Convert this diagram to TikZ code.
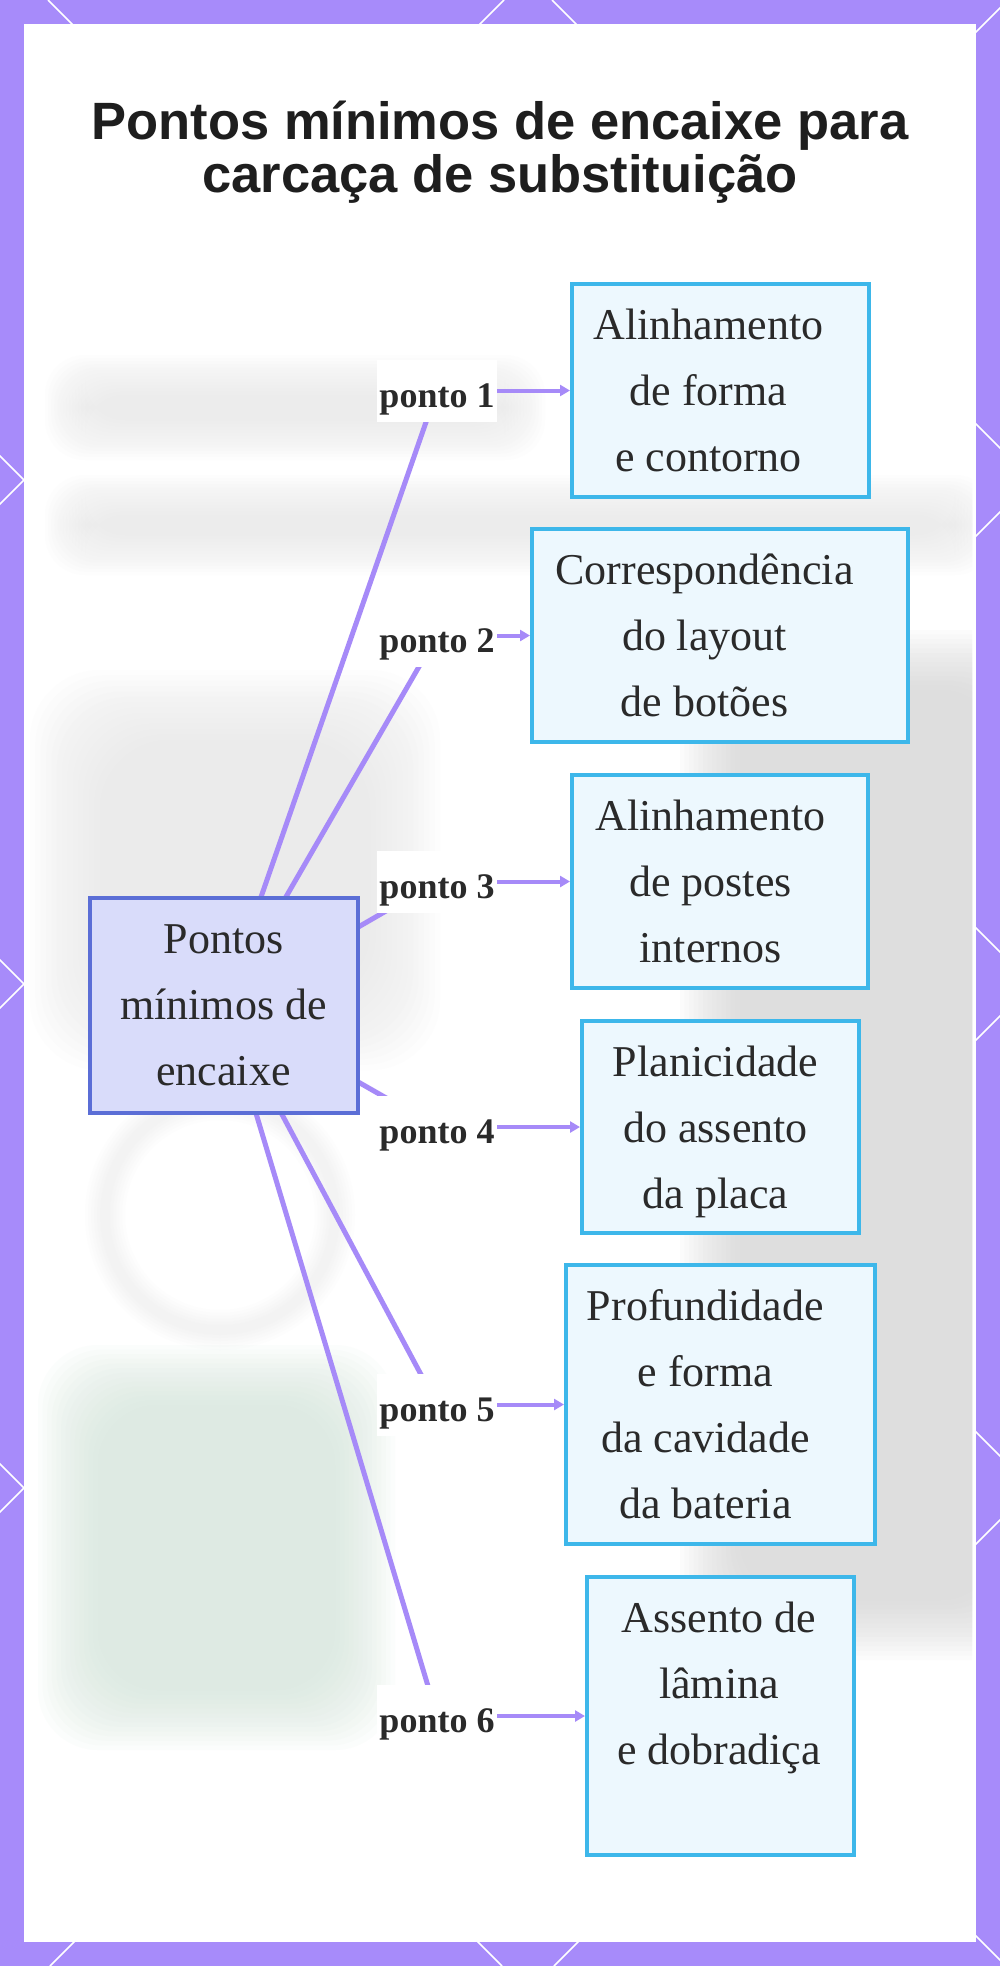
\documentclass[tikz,border=0pt]{standalone}
\usepackage{fontspec}
\setmainfont{Liberation Serif}
\newfontfamily\titlefont{Liberation Sans}
\usetikzlibrary{arrows.meta}
\definecolor{framecol}{HTML}{A78BFA}
\definecolor{linkcol}{HTML}{A68AF8}
\definecolor{hubfill}{HTML}{D9DCFA}
\definecolor{hubline}{HTML}{5B6ED6}
\definecolor{boxfill}{HTML}{EDF8FE}
\definecolor{boxline}{HTML}{3DB7EA}
\definecolor{inkcol}{HTML}{2A2A2A}
\definecolor{titleink}{HTML}{1E1E1E}
\definecolor{hazegray}{HTML}{D4D4D4}
\definecolor{hazelight}{HTML}{E6E6E6}
\definecolor{hazetext}{HTML}{E8E8E8}
\definecolor{hazegreen}{HTML}{D3E5DA}
\pgfdeclarelayer{backdrop}
\pgfdeclarelayer{edgelayer}
\pgfsetlayers{backdrop,edgelayer,main}
% soft-edged blob: x1,y1,x2,y2,colour,edge width
\newcommand\bgblob[6]{%
  \foreach \k in {0,...,13} {\fill[#5, opacity=0.075, rounded corners={#6}] ({#1+\k*#6/13},{#2+\k*#6/13}) rectangle ({#3-\k*#6/13},{#4-\k*#6/13});}}
\tikzset{
  titletext/.style={anchor=base, inner sep=0pt, text=titleink, font=\titlefont\bfseries\fontsize{52.5}{56}\selectfont},
  hubbox/.style={draw=hubline, line width=4pt, fill=hubfill, minimum width=268pt, minimum height=215pt, inner sep=0pt, align=center, text=inkcol, font=\fontsize{44}{66}\selectfont},
  itembox/.style={draw=boxline, line width=4pt, fill=boxfill, inner sep=0pt},
  itemtext/.style={align=center, inner sep=0pt, text=inkcol, font=\fontsize{44}{66}\selectfont},
  tag/.style={fill=white, text=inkcol, font=\bfseries\fontsize{36}{40}\selectfont, inner xsep=2pt, inner ysep=7.5pt, text height=40pt, text depth=7pt},
  link/.style={draw=linkcol, line width=5pt},
  pointer/.style={draw=linkcol, line width=4pt, -{Triangle[length=10pt,width=11pt]}},
  deco/.style={draw=white, line width=1.5pt},
}
\begin{document}
\begin{tikzpicture}[x=1pt,y=-1pt]
\useasboundingbox (0,0) rectangle (1000,1966);
\begin{pgfonlayer}{backdrop}
  \fill[framecol] (0,0) rectangle (1000,1966);
  \begin{scope}
    \clip (0,0) rectangle (1000,1966);
    \foreach \c in {-1464,-960,-456,48,552} \draw[deco] (\c,0) -- (\c+1966,1966);
    \foreach \d in {504,1008,1512,2016,2520} \draw[deco] (\d,0) -- (\d-1966,1966);
  \end{scope}
  \fill[white] (24,24) rectangle (976,1942);
  % faint blurred backdrop of the panel
  \begin{scope}
    \clip (26,26) rectangle (972,1938);
    \bgblob{680}{630}{1060}{1660}{hazegray}{60}
    \bgblob{30}{670}{440}{1070}{hazelight}{70}
    \bgblob{38}{1345}{395}{1750}{hazegreen}{60}
    \bgblob{45}{355}{545}{460}{hazetext}{40}
    \bgblob{45}{475}{995}{575}{hazetext}{40}
    \foreach \k in {0,...,5} {\draw[hazelight, opacity=0.07, line width={40-6*\k}] (220,1215) circle (115);}
  \end{scope}
\end{pgfonlayer}

% title
\node[titletext] (title1) at (500,139) {Pontos mínimos de encaixe para};
\node[titletext] (title2) at (500,192) {carcaça de substituição};

% hub
\node[hubbox] (hub) at (223.5,1005) {Pontos\\mínimos de\\encaixe};

% item boxes
\node[itembox, minimum width=297pt, minimum height=213pt] (b1) at (720.5,390.5) {};
\node[itembox, minimum width=376pt, minimum height=213pt] (b2) at (720,635.5) {};
\node[itembox, minimum width=296pt, minimum height=213pt] (b3) at (720,881.5) {};
\node[itembox, minimum width=277pt, minimum height=212pt] (b4) at (720.5,1127) {};
\node[itembox, minimum width=309pt, minimum height=279pt] (b5) at (720.5,1404.5) {};
\node[itembox, minimum width=267pt, minimum height=278pt] (b6) at (720.5,1716) {};

\node[itemtext] (t1) at (708.5,390.3) {Alinhamento\\de forma\\e contorno};
\node[itemtext] (t2) at (704.5,635.5) {Correspondência\\do layout\\de botões};
\node[itemtext] (t3) at (710.5,881.3) {Alinhamento\\de postes\\internos};
\node[itemtext] (t4) at (715.5,1131.6) {Planicidade\\do assento\\da placa};
\node[itemtext] (t5) at (705.5,1404.3) {Profundidade\\e forma\\da cavidade\\da bateria};
\node[itemtext] (t6) at (719,1688) {Assento de\\lâmina\\e dobradiça};

% tags
\node[tag] (p1) at (437,390.5) {ponto 1};
\node[tag] (p2) at (437,635.5) {ponto 2};
\node[tag] (p3) at (437,881.5) {ponto 3};
\node[tag] (p4) at (437,1127) {ponto 4};
\node[tag] (p5) at (437,1404.5) {ponto 5};
\node[tag] (p6) at (437,1716) {ponto 6};

\begin{pgfonlayer}{edgelayer}
  \foreach \i in {1,...,6} {
    \draw[link] (hub.center) -- (p\i.center);
    \draw[pointer] (p\i.east) -- (b\i.west);
  }
\end{pgfonlayer}
\end{tikzpicture}
\end{document}
